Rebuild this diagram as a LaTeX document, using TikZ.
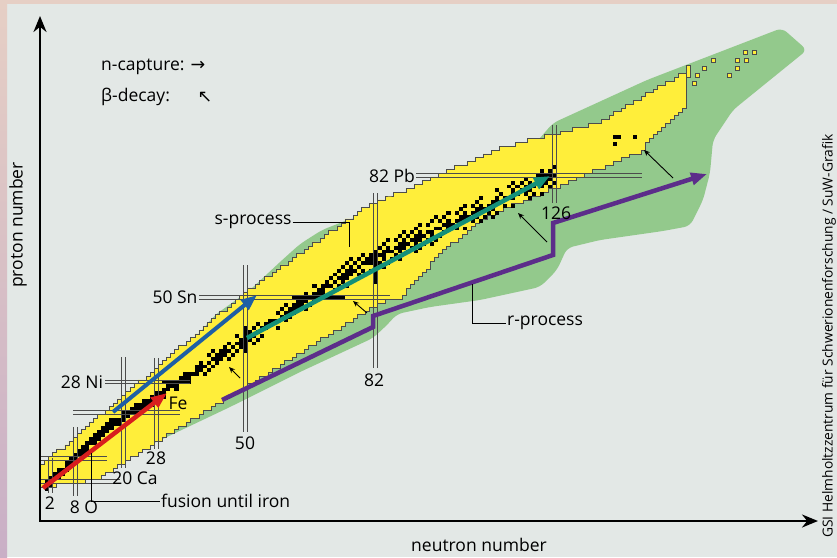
\documentclass[tikz,border=0pt]{standalone}
\usepackage{fontspec}
\setmainfont{Open Sans}
\newfontfamily\symfont{DejaVu Sans}
\usetikzlibrary{arrows.meta,positioning}
\definecolor{bgcol}{HTML}{E3E8E6}
\definecolor{topcol}{HTML}{E6CFC5}
\definecolor{leftcol}{HTML}{C9AFC6}
\definecolor{bandyellow}{HTML}{FFEE3A}
\definecolor{rgreen}{HTML}{93C98C}
\definecolor{fusred}{HTML}{D81E1E}
\definecolor{sblue}{HTML}{1E5FA5}
\definecolor{steal}{HTML}{149079}
\definecolor{rpurple}{HTML}{5C2D8A}

\begin{document}
\begin{tikzpicture}[x=1pt, y=-1pt, font=\fontsize{17.5}{20}\selectfont,
  every node/.style={inner sep=1pt},
  declare function={cx(\q)=42.5+4.06*\q; cy(\q)=489-3.83*\q;
    ztop(\q)=min(6+0.9*\q,13.3+0.75*\q,36.1+0.465*\q,max(57.4+0.276*\q,8.8+0.63*\q));
    zbot(\q)=max(1+0.15*\q,min(-5.7+0.657*\q,50),min(-54.6+1.19*\q,-23.8+0.875*\q,22.2+0.451*\q),-66.8+1.056*\q);
    zst(\q)=min(\q,5+0.68*\q,20+0.49*\q);},
  axis/.style={line width=2.4pt, {Stealth[length=16pt,width=13pt]}-{Stealth[length=16pt,width=13pt]}},
  proc/.style={line width=4.5pt, line join=miter, -{Triangle[length=16pt,width=12pt]}},
  decay/.style={line width=0.9pt, -{Stealth[length=6pt,width=5pt]}},
  magic/.style={draw=black!70, line width=0.55pt},
  leader/.style={draw=black, line width=1pt},
  stable/.style={fill=black},
  band/.style={fill=bandyellow, draw=black!70, line width=0.5pt}]
\useasboundingbox (0,0) rectangle (837,557);

% background
\fill[bgcol] (0,0) rectangle (837,557);
\fill[topcol] (0,0) rectangle (837,4);
\shade[top color=topcol, bottom color=leftcol] (0,0) rectangle (7,557);

% r-process region
\fill[rgreen, rounded corners=6pt] (150,445) -- (230,407) -- (300,372) -- (373,338) -- (387,325)
  -- (397,314) -- (430,307) -- (480,300) -- (540,287) -- (557,270) -- (567,248) -- (600,240)
  -- (663,231) -- (690,226) -- (703,200) -- (710,173) -- (713,140) -- (733,110) -- (807,50)
  -- (782,28) -- (647,80) -- (553,123) -- (540,138) -- (530,150) -- (450,190) -- (375,214)
  -- (350,219) -- (322,230) -- (300,244) -- (280,262) -- (250,290) -- (215,315) -- (185,350)
  -- (150,400) -- cycle;

% known nuclei
\filldraw[band] ({cx(0)-2.03},{cy(round(zbot(0)))+1.92})
  \foreach \n in {0,...,158}{ |- ({cx(\n)+2.03},{cy(round(ztop(\n)))-1.92}) }
  \foreach \n in {158,...,0}{ |- ({cx(\n)-2.03},{cy(round(zbot(\n)))+1.92}) } -- cycle;
\foreach \x/\y in {745/52, 754/52, 737/60, 746/60, 737/68, 729/75, 713/60, 704/68, 697/75, 694/83}
  \filldraw[band] (\x-1.8,\y-1.8) rectangle +(3.6,3.6);
\filldraw[band] (686,65) rectangle (690,77);

% stable nuclei
\pgfmathsetseed{11}
\foreach \n in {1,...,126}{
  \pgfmathtruncatemacro\zs{round(zst(\n))}
  \pgfmathtruncatemacro\sp{\n<40 ? 1 : (\n<70 ? 2 : 3)}
  \foreach \d in {-3,...,3}{
    \pgfmathtruncatemacro\ok{(\d==0) || ((abs(\d)<=\sp) && (rnd<0.9-0.1*abs(\d)) && ((\n<40) || (isodd((\n)+(\zs)+(\d))==0)))}
    \ifnum\ok=1 \fill[stable] ({cx(\n)-2.03},{cy((\zs)+(\d))-1.92}) rectangle +(4.06,3.84); \fi
  }
}
\foreach \na/\nb/\za/\zb in {62/74/50/50, 82/82/54/62, 50/50/36/42, 122/126/82/82, 30/36/28/28,
    141/142/92/92, 146/146/92/92, 141/141/90/90}
  \fill[stable] ({cx(\na)-2.03},{cy(\zb)-1.92}) rectangle ({cx(\nb)+2.03},{cy(\za)+1.92});

% magic numbers
\foreach \z/\xa/\xb in {2/40/120, 8/40/107, 20/73/180, 28/105/190, 50/199/390, 82/416/642}
  \draw[magic] (\xa,{cy(\z)-1.9}) -- (\xb,{cy(\z)-1.9}) (\xa,{cy(\z)+1.9}) -- (\xb,{cy(\z)+1.9});
\foreach \n/\ya/\yb in {2/458/493, 8/427/496, 20/357/468, 28/358/449, 50/265/432, 82/193/368, 126/125/203}
  \draw[magic] ({cx(\n)-2},\ya) -- ({cx(\n)-2},\yb) ({cx(\n)+2},\ya) -- ({cx(\n)+2},\yb);

% axes
\coordinate (yend) at (40,16);
\coordinate (xend) at (818,521);
\draw[axis] (yend) |- (xend);
\node[rotate=90] (pnum) at (18,225) {proton number};
\node (nnum) at (479,545) {neutron number};
\node[rotate=90, font=\fontsize{13.8}{16}\selectfont] (credit) at (829,336) {GSI Helmholtzzentrum für Schwerionenforschung / SuW-Grafik};

% processes
\draw[proc, rpurple] (222,400) -- (373,327) -- (373,316) -- (553,255) -- (553,223) -- (707,174);
\draw[proc, fusred] (43,488) -- (167,393);
\draw[proc, sblue, line width=4pt] (113,412) -- (257,295);
\draw[proc, steal] (247,338) -- (550,176);
\foreach \xa/\ya/\xb/\yb in {240/378/229/367, 367/313/353/301, 547/242/518/213, 673/178/644/150}
  \draw[decay] (\xa,\ya) -- (\xb,\yb);

% labels
\node[anchor=west] (ncap) at (100,67) {n-capture: {\symfont →}};
\node[below=30pt of ncap.west, anchor=west] (bdec) {β-decay:};
\node (bsym) at (205,97) {\symfont ↖};
\node (he) at (50,503) {2};
\node (ox) at (84,507) {8 O};
\node[anchor=west] (fus) at (160,501) {fusion until iron};
\node (ca) at (135,478) {20 Ca};
\node (n28) at (156,458) {28};
\node (ni) at (82,382) {28 Ni};
\node (fe) at (178,403) {Fe};
\node (n50) at (245,443) {50};
\node (sn) at (175,297) {50 Sn};
\node (sproc) at (253,222) {s-process};
\node (n82) at (374,380) {82};
\node (pb) at (392,176) {82 Pb};
\node (n126) at (556,213) {126};
\node[anchor=west] (rproc) at (506,323) {r-process};
\draw[leader] (91,453) |- (fus.west);
\draw[leader] (sproc.east) -| (349,247);
\draw[leader] (472,284) |- (rproc.west);
\end{tikzpicture}
\end{document}
